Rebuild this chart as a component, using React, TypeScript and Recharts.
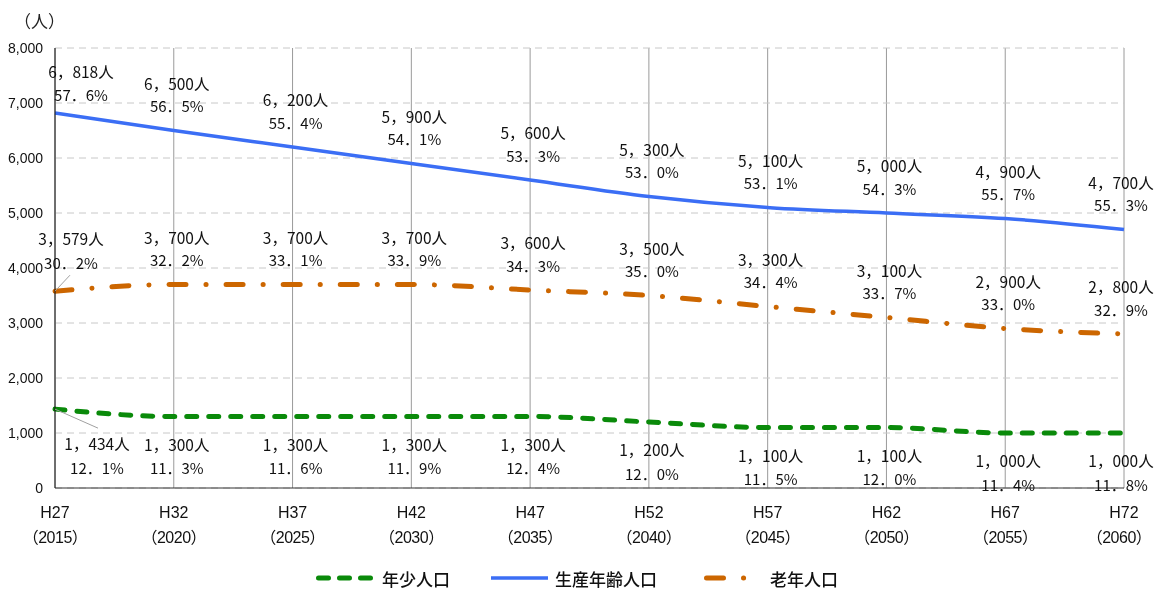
import React from 'react';
import {
  LineChart,
  Line,
  XAxis,
  YAxis,
  CartesianGrid,
  LabelList,
} from 'recharts';

const eras = ['H27', 'H32', 'H37', 'H42', 'H47', 'H52', 'H57', 'H62', 'H67', 'H72'];
const years = ['2015', '2020', '2025', '2030', '2035', '2040', '2045', '2050', '2055', '2060'];

const youngCount = [1434, 1300, 1300, 1300, 1300, 1200, 1100, 1100, 1000, 1000];
const youngShare = [12.1, 11.3, 11.6, 11.9, 12.4, 12.0, 11.5, 12.0, 11.4, 11.8];
const workingCount = [6818, 6500, 6200, 5900, 5600, 5300, 5100, 5000, 4900, 4700];
const workingShare = [57.6, 56.5, 55.4, 54.1, 53.3, 53.0, 53.1, 54.3, 55.7, 55.3];
const elderlyCount = [3579, 3700, 3700, 3700, 3600, 3500, 3300, 3100, 2900, 2800];
const elderlyShare = [30.2, 32.2, 33.1, 33.9, 34.3, 35.0, 34.4, 33.7, 33.0, 32.9];

const yTicks = [0, 1000, 2000, 3000, 4000, 5000, 6000, 7000, 8000];

const data = eras.map((era, i) => ({
  era,
  young: youngCount[i],
  working: workingCount[i],
  elderly: elderlyCount[i],
}));

const GREEN = '#0a8a0a';
const BLUE = '#3b6ef5';
const ORANGE = '#cc6600';
const JP = '"Noto Sans CJK JP", "Noto Sans", sans-serif';
const SANS = '"Liberation Sans", Arial, "Noto Sans CJK JP", sans-serif';

const fmtCount = (v: number) => v.toLocaleString('en-US').replace(',', '，') + '人';
const fmtShare = (v: number) => v.toFixed(1).replace('.', '．') + '%';

// offsets of the two label lines relative to the point (first point is shifted)
type LabelPos = { first: [number, number, number]; rest: [number, number]; leader?: [number, number] };

const makeLabel = (counts: number[], shares: number[], pos: LabelPos) => (props: any) => {
  const { x, y, index } = props;
  const first = index === 0;
  const last = index === counts.length - 1;
  const cx = first ? x + pos.first[0] : last ? x - 3 : x + 3;
  const d1 = first ? pos.first[1] : pos.rest[0];
  const d2 = first ? pos.first[2] : pos.rest[1];
  return (
    <g>
      {first && pos.leader && (
        <line x1={x} y1={y} x2={x + pos.leader[0]} y2={y + pos.leader[1]} stroke="#a0a0a0" strokeWidth={1} />
      )}
      <text x={cx} y={y + d1} textAnchor="middle" dominantBaseline="central" fontSize={15.5} fontFamily={JP} fill="#111">
        {fmtCount(counts[index])}
      </text>
      <text x={cx} y={y + d2} textAnchor="middle" dominantBaseline="central" fontSize={15} fontFamily={JP} fill="#111">
        {fmtShare(shares[index])}
      </text>
    </g>
  );
};

const EraTick = (props: any) => {
  const { x, y, payload, index } = props;
  const tx = index === eras.length - 1 ? x - 5 : x;
  return (
    <g>
      <text x={x} y={y + 30} textAnchor="middle" fontSize={16} fontFamily={SANS} fill="#111">
        {payload.value}
      </text>
      <text x={tx} y={y + 55} textAnchor="middle" fontSize={16} fontFamily={SANS} fill="#111" letterSpacing={-0.5}>
        （{years[index]}）
      </text>
    </g>
  );
};

const App: React.FC = () => {
  return (
    <div style={{ position: 'fixed', left: 8, top: 8, width: 1149, height: 582, overflow: 'visible' }}>
      <div style={{ position: 'absolute', left: 6, top: 0, fontSize: 17, fontFamily: JP, color: '#222' }}>（人）</div>
      <LineChart
        width={1149}
        height={545}
        data={data}
        margin={{ top: 40, right: 33, left: 0, bottom: 0 }}
        style={{ overflow: 'visible' }}
      >
        <CartesianGrid horizontal={false} vertical stroke="#9a9a9a" strokeWidth={1} />
        <CartesianGrid horizontal vertical={false} stroke="#c8c8c8" strokeDasharray="7 5" />
        <XAxis
          dataKey="era"
          tick={<EraTick />}
          tickLine={false}
          tickSize={0}
          tickMargin={0}
          height={65}
          axisLine={{ stroke: '#333' }}
          interval={0}
        />
        <YAxis
          domain={[0, 8000]}
          ticks={yTicks}
          width={47}
          tickLine={false}
          tickSize={0}
          tickMargin={12}
          axisLine={{ stroke: '#111' }}
          tickFormatter={(v: number) => v.toLocaleString('en-US')}
          tick={{ fontSize: 14, fill: '#111', fontFamily: SANS }}
        />
        <Line
          type="monotone"
          dataKey="working"
          stroke={BLUE}
          strokeWidth={3.5}
          dot={false}
          isAnimationActive={false}
        >
          <LabelList content={makeLabel(workingCount, workingShare, { first: [26, -42, -19], rest: [-48, -25] })} />
        </Line>
        <Line
          type="monotone"
          dataKey="elderly"
          stroke={ORANGE}
          strokeWidth={5}
          strokeLinecap="round"
          strokeDasharray="17 20 0.1 20"
          dot={false}
          isAnimationActive={false}
        >
          <LabelList
            content={makeLabel(elderlyCount, elderlyShare, { first: [16, -53, -29], rest: [-48, -25], leader: [15, -16] })}
          />
        </Line>
        <Line
          type="monotone"
          dataKey="young"
          stroke={GREEN}
          strokeWidth={5}
          strokeLinecap="round"
          strokeDasharray="10 12"
          dot={false}
          isAnimationActive={false}
        >
          <LabelList
            content={makeLabel(youngCount, youngShare, { first: [42, 34, 58], rest: [27, 51], leader: [43, 19] })}
          />
        </Line>
      </LineChart>

      {/* legend */}
      <div style={{ position: 'absolute', left: 0, top: 558, width: 1149, height: 24, fontFamily: JP, fontSize: 17, fontWeight: 500, color: '#111' }}>
        <svg style={{ position: 'absolute', left: 308, top: 7 }} width={57} height={10}>
          <line x1={2.5} y1={5} x2={54.5} y2={5} stroke={GREEN} strokeWidth={5} strokeLinecap="round" strokeDasharray="10 11" />
        </svg>
        <span style={{ position: 'absolute', left: 374, top: 0 }}>年少人口</span>
        <svg style={{ position: 'absolute', left: 483, top: 7 }} width={57} height={10}>
          <line x1={0} y1={5} x2={57} y2={5} stroke={BLUE} strokeWidth={3.5} />
        </svg>
        <span style={{ position: 'absolute', left: 547, top: 0 }}>生産年齢人口</span>
        <svg style={{ position: 'absolute', left: 696, top: 7 }} width={45} height={10}>
          <line x1={2.5} y1={5} x2={42.5} y2={5} stroke={ORANGE} strokeWidth={5} strokeLinecap="round" strokeDasharray="17 20 0.1 20" />
        </svg>
        <span style={{ position: 'absolute', left: 762, top: 0 }}>老年人口</span>
      </div>
    </div>
  );
};

export default App;
